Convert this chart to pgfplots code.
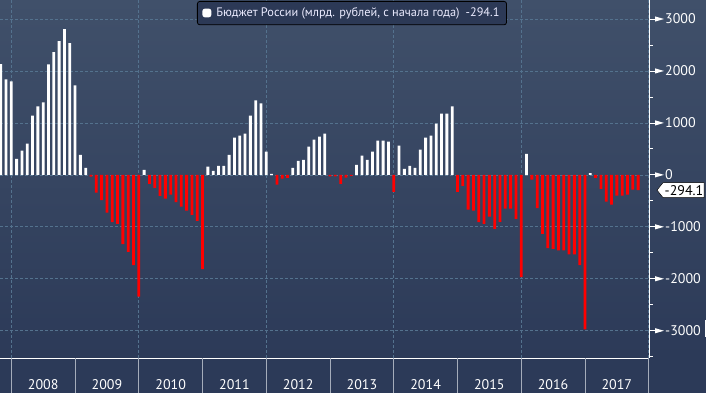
\documentclass[border=0pt]{standalone}
\usepackage{fontspec}
\setmainfont{PT Sans}
\usepackage{pgfplots}
\usepackage{pgfplotstable}
\pgfplotsset{compat=1.18}

\definecolor{bgtop}{RGB}{64,80,106}
\definecolor{bgbot}{RGB}{44,58,88}
\definecolor{gridc}{RGB}{84,114,142}
\definecolor{barred}{RGB}{255,0,0}
\definecolor{legbg}{RGB}{44,57,86}
\definecolor{sepc}{RGB}{165,172,186}

% cumulative federal budget balance, bln rub, since start of year (month-end values)
\pgfplotstableread{
yr mo val
2007 10 2130
2007 11 1839
2007 12 1800
2008 1 310
2008 2 465
2008 3 600
2008 4 1142
2008 5 1316
2008 6 1394
2008 7 2129
2008 8 2361
2008 9 2574
2008 10 2806
2008 11 2535
2008 12 1723
2009 1 387
2009 2 135
2009 3 -32
2009 4 -342
2009 5 -484
2009 6 -729
2009 7 -910
2009 8 -942
2009 9 -1335
2009 10 -1484
2009 11 -1735
2009 12 -2342
2010 1 97
2010 2 -174
2010 3 -252
2010 4 -406
2010 5 -458
2010 6 -381
2010 7 -523
2010 8 -613
2010 9 -690
2010 10 -768
2010 11 -884
2010 12 -1813
2011 1 158
2011 2 77
2011 3 174
2011 4 174
2011 5 387
2011 6 716
2011 7 755
2011 8 794
2011 9 1142
2011 10 1432
2011 11 1374
2011 12 445
2012 1 20
2012 2 -190
2012 3 -74
2012 4 -58
2012 5 135
2012 6 271
2012 7 290
2012 8 542
2012 9 677
2012 10 735
2012 11 794
2012 12 -30
2013 1 -30
2013 2 -174
2013 3 -55
2013 4 -19
2013 5 194
2013 6 368
2013 7 290
2013 8 445
2013 9 658
2013 10 658
2013 11 639
2013 12 -329
2014 1 561
2014 2 116
2014 3 174
2014 4 135
2014 5 484
2014 6 716
2014 7 755
2014 8 987
2014 9 1181
2014 10 1181
2014 11 1316
2014 12 -329
2015 1 -213
2015 2 -671
2015 3 -690
2015 4 -910
2015 5 -942
2015 6 -806
2015 7 -1039
2015 8 -903
2015 9 -652
2015 10 -652
2015 11 -845
2015 12 -1968
2016 1 406
2016 2 -93
2016 3 -639
2016 4 -1135
2016 5 -1410
2016 6 -1426
2016 7 -1452
2016 8 -1452
2016 9 -1529
2016 10 -1529
2016 11 -1735
2016 12 -2974
2017 1 35
2017 2 -58
2017 3 -271
2017 4 -516
2017 5 -574
2017 6 -400
2017 7 -400
2017 8 -381
2017 9 -284
2017 10 -294.1
}\budget

\begin{document}
\begin{tikzpicture}[x=1pt,y=1pt]
\useasboundingbox (0,0) rectangle (706,393);
\clip (0,0) rectangle (706,393);
\shade[top color=bgtop, bottom color=bgbot] (0,35) rectangle (706,393);
\fill[bgbot] (0,0) rectangle (706,35.5);

\begin{axis}[
  at={(0pt,35pt)}, anchor=south west,
  scale only axis, width=649pt, height=358pt,
  xmin=-2.13, xmax=120.05, ymin=-3525, ymax=3366,
  axis line style={draw=none}, tick style={draw=none},
  xtick={0,24,48,72,96,120}, ytick={-3000,-2000,...,3000},
  xticklabels={}, yticklabels={},
  grid=major,
  major grid style={gridc, dash pattern=on 2.5pt off 2.5pt, line width=0.7pt},
  clip=false,
  legend style={at={(0.3035,0.9972)}, anchor=north west,
    fill=legbg, draw=black, line width=0.8pt, rounded corners=2.5pt,
    text=white!92!blue, font=\fontsize{12.3}{13}\selectfont,
    inner xsep=5pt, inner ysep=4.5pt},
]
\addplot[ybar, bar width=2.8pt, bar shift=0pt, fill=white, draw=none,
  restrict y to domain=0:5000,
  legend image code/.code={\fill[white] (0pt,-4.2pt) rectangle (9pt,4.5pt);}]
  table[x expr=(\thisrow{yr}-2008)*12+\thisrow{mo}, y=val]{\budget};
\addlegendentry{\hspace{3pt}Бюджет России (млрд. рублей, с начала года)\hspace{6pt}-294.1}
\addplot[ybar, bar width=2.8pt, bar shift=0pt, fill=barred, draw=none,
  restrict y to domain=-5000:0, forget plot]
  table[x expr=(\thisrow{yr}-2008)*12+\thisrow{mo}, y=val]{\budget};
\end{axis}

% axes lines
\draw[white, line width=0.8pt] (0,35) -- (649,35);
\draw[white, line width=0.8pt] (649,35) -- (649,393);
% year separators and labels
\foreach \i [evaluate=\i as \xx using 11.31+\i*63.74] in {0,...,10} {
  \draw[sepc, line width=0.8pt] (\xx,35) -- (\xx,0);
}
\foreach \yy [count=\i from 0, evaluate=\i as \xx using 11.31+\i*63.74+31.87] in {2008,...,2017} {
  \node[white, font=\fontsize{14}{14}\selectfont, anchor=base, inner sep=0pt] at (\xx,3.8) {\yy};
}
% right axis ticks and labels
\foreach \v in {-3000,-2000,...,3000} {
  \pgfmathsetmacro{\yy}{218.13+\v*0.05195}
  \draw[white, line width=0.8pt] (649,\yy) -- (656,\yy);
  \fill[white] (655,\yy+2.6) -- (664,\yy) -- (655,\yy-2.6) -- cycle;
  \node[white, font=\fontsize{14}{14}\selectfont, anchor=west, inner sep=0pt] at (665,\yy) {\v};
}
\foreach \v in {-3500,-2500,...,2500} {
  \pgfmathsetmacro{\yy}{218.13+\v*0.05195}
  \draw[white, line width=0.8pt] (649,\yy) -- (653,\yy);
}
% last value tag
\pgfmathsetmacro{\yl}{218.13-294.1*0.05195}
\filldraw[fill=white, draw=black, line width=0.5pt] (657,\yl) -- (663,\yl+7.5) -- (704,\yl+7.5) -- (704,\yl-7.5) -- (663,\yl-7.5) -- cycle;
\node[black, font=\fontsize{14}{14}\selectfont, anchor=west, inner sep=0pt] at (664.5,\yl) {-294.1};
\draw[white, line width=1pt] (705.5,73) -- (705.5,56);
\end{tikzpicture}
\end{document}
